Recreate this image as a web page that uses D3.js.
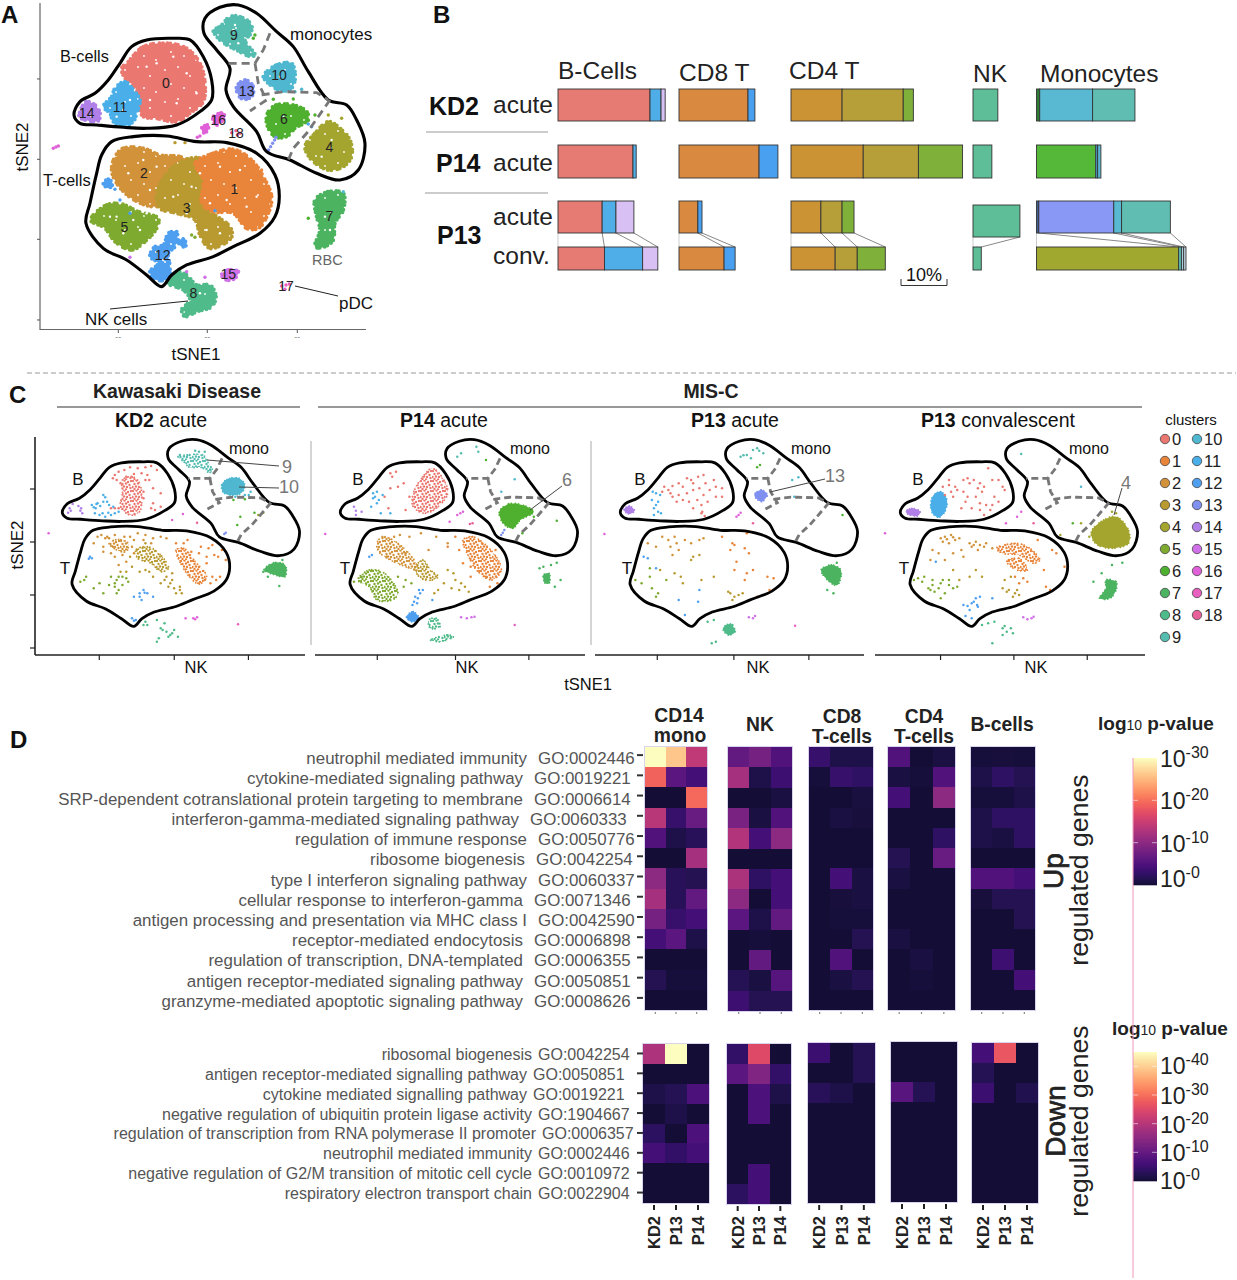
<!DOCTYPE html>
<html><head><meta charset="utf-8">
<script src="https://cdn.jsdelivr.net/npm/d3@7"></script>
<style>body{margin:0;background:#fff}svg{display:block}text{font-family:"Liberation Sans",Arial,sans-serif}</style>
</head><body><svg id="fig" width="1237" height="1280"></svg>
<script>
// ---------- cluster colours
const clusterColors=["#EA7870","#E8853A","#D2923A","#B89A30","#A3A52F","#7FAA30","#4FB030","#4CB460","#4FBB8A","#55BDB0","#4FB8D0","#4AAFE8","#4E9FF0","#7F90F0","#B080E8","#D070E8","#E060D8","#E85FC0","#E8609A"];
const barColors={0:"#E57B72",1:"#D98A40",2:"#CB9333",3:"#B69E38",4:"#A0A830",5:"#7FB03A",6:"#55B838",8:"#5DBE98",9:"#5FBDB2",10:"#59B8D2",11:"#4FAEE8",12:"#4AA0F0",13:"#8A98F5",14:"#D8C0F5",19:"#3E5E90",20:"#2E7D32",21:"#A8D0E0",22:"#C4DAE8"};
// ---------- panel A : cluster footprints in tSNE read units
const outlineB=[[222,345],[240,305],[285,280],[325,240],[360,190],[395,140],[440,120],[520,115],[570,120],[610,170],[635,240],[635,300],[600,335],[530,375],[440,385],[370,382],[290,375],[240,370]];
const outlineT=[[335,425],[400,410],[500,408],[590,425],[680,428],[770,460],[825,525],[838,590],[825,650],[780,700],[700,740],[640,770],[560,795],[515,825],[485,860],[440,825],[380,780],[310,745],[258,670],[270,610],[290,520],[305,465]];
const outlineMono=[[660,22],[715,15],[770,40],[830,95],[880,140],[925,215],[985,300],[1040,315],[1070,360],[1095,430],[1075,510],[1020,540],[950,520],[870,480],[800,455],[770,395],[700,320],[678,270],[690,205],[650,150],[612,100],[615,55]];
const monoDashes=[[[810,100],[790,150],[765,190],[685,190]],[[765,190],[775,250],[800,300],[750,333]],[[785,285],[850,275],[950,278],[985,300]],[[990,300],[920,400],[880,445],[865,480]]];
const atlasBlobs=[
[5,[[272,660],[320,615],[365,612],[415,635],[475,655],[470,685],[435,725],[395,750],[345,725],[315,685]]],
[2,[[345,470],[370,445],[430,445],[480,465],[540,470],[575,490],[560,560],[520,600],[460,620],[395,595],[350,550],[335,510]]],
[3,[[470,580],[520,500],[600,475],[625,540],[610,600],[640,640],[690,680],[695,712],[630,745],[600,705],[585,660],[530,640],[480,625]]],
[1,[[585,490],[640,460],[700,448],[755,480],[790,530],[815,590],[805,640],[775,685],[740,685],[700,640],[640,635],[605,610],[610,540]]],
[12,[[505,700],[530,695],[525,740],[505,760],[510,800],[505,835],[470,840],[450,815],[475,790],[450,770],[465,740],[490,735]]],
[12,[[310,550],[325,538],[338,552],[325,565]]],
[12,[[535,722],[550,718],[560,735],[545,740]]],
[0,[[385,185],[430,140],[500,130],[560,145],[600,190],[615,250],[610,305],[570,340],[530,365],[470,355],[430,350],[410,300],[410,270],[375,235],[365,205]]],
[11,[[345,265],[375,245],[400,270],[420,300],[410,340],[400,365],[370,378],[340,365],[330,340],[310,320],[335,290]]],
[14,[[240,335],[258,305],[285,315],[300,340],[295,362],[255,360],[238,350]]],
[9,[[640,90],[660,80],[690,50],[720,50],[755,75],[750,105],[735,120],[765,165],[745,168],[710,150],[680,135],[650,110]]],
[10,[[800,215],[830,195],[875,190],[885,240],[870,270],[835,270],[800,245],[790,230]]],
[13,[[710,260],[735,240],[760,260],[755,290],[730,298],[715,285]]],
[6,[[805,335],[830,315],[880,315],[920,335],[925,360],[885,385],[860,410],[825,410],[800,370]]],
[4,[[915,440],[945,400],[985,365],[1020,385],[1050,420],[1055,470],[1030,500],[985,510],[935,480]]],
[7,[[945,600],[985,575],[1030,580],[1030,630],[1005,670],[1000,720],[975,740],[945,740],[960,690],[950,650]]],
[8,[[505,850],[530,815],[560,825],[590,855],[630,855],[648,890],[635,920],[590,935],[555,950],[545,930],[570,900],[550,870]]],
[15,[[665,825],[685,810],[715,815],[705,835],[680,840]]],
[16,[[640,350],[665,340],[675,350],[650,375],[640,365]]],
[16,[[605,385],[622,375],[625,390],[610,398]]]
];
const atlasDots=[[16,[[160,445],[168,441],[175,438],[600,408],[592,412]]],[18,[[695,398],[708,392],[720,400],[712,405]]],[17,[[845,858],[858,855],[868,852],[855,868]]],[13,[[806,450],[812,440],[818,430],[824,420],[828,412]]],[6,[[925,655],[945,345],[880,297],[820,298],[760,115],[765,105]]],[4,[[1025,355],[985,345]]],[10,[[905,268],[885,275],[1030,575]]],[12,[[390,640],[645,632],[345,568],[360,600],[935,380],[925,372]]],[5,[[575,705],[585,712]]],[15,[[390,772],[615,832],[560,815]]],[1,[[785,510]]],[3,[[525,428],[555,428]]]];
const whiteSpecks=[[440,200],[470,190],[520,170],[560,220],[450,300],[530,310],[590,280],[370,330],[390,300],[350,350],[430,480],[470,500],[385,520],[450,570],[520,590],[575,560],[600,520],[660,500],[720,510],[680,600],[740,620],[770,590],[630,610],[560,640],[620,690],[660,700],[350,650],[400,660],[420,690],[370,700],[330,650],[700,90],[705,75],[715,130],[840,230],[850,350],[990,690],[975,650],[995,420],[965,470],[600,880],[490,780],[440,640],[480,640],[510,650],[530,660],[500,670],[545,680],[415,625],[360,610]];
const clusterLabelPos=[[498,250],[703,568],[432,520],[560,623],[988,440],[373,680],[852,358],[988,648],[580,878],[702,105],[837,225],[360,320],[488,765],[740,272],[260,340],[685,822],[655,360],[858,858],[708,398]];
// ---------- panel B
const barRows=["KD2 acute","P14 acute","P13 acute","P13 conv."];
const barGroupNames=["B-Cells","CD8 T","CD4 T","NK","Monocytes"];
const bCellBars=[[[0,20],[11,2.4],[14,.9]],[[0,16.3],[11,.7]],[[0,9.6],[11,3],[14,3.9]],[[0,10.1],[11,8.3],[14,3.3]]];
const cd8Bars=[[[1,15],[12,1.5]],[[1,17.4],[12,4.1]],[[1,4.1],[12,.9]],[[1,9.8],[12,2.4]]];
const cd4Bars=[[[2,11.1],[3,13.3],[5,2.2]],[[2,15.7],[3,12],[5,9.6]],[[2,6.5],[3,4.6],[5,2.6]],[[2,9.6],[3,4.8],[5,6.1]]];
const nkBars=[[[8,5.4]],[[8,4.1]],[[8,10.2]],[[8,1.8]]];
const monoBars=[[[20,.7],[10,11.5],[9,9.2]],[[6,12.9],[11,.4],[10,.7]],[[19,.5],[13,16.3],[10,1.7],[9,10.6]],[[4,30.9],[9,.6],[21,.5],[22,.5]]];
// ---------- panel C : cells per sample
const kd2Blobs=[
[0,[[320,300],[345,290],[365,310],[365,395],[340,405],[315,380],[320,340]]],
[9,[[465,230],[490,225],[530,225],[545,250],[555,270],[548,278],[525,262],[495,262],[480,245]]],
[10,[[580,312],[600,295],[625,295],[640,315],[630,340],[600,345],[582,335]]],
[2,[[285,490],[310,478],[335,490],[330,515],[305,510]]],
[3,[[355,510],[385,500],[420,525],[440,565],[420,575],[395,550],[360,535]]],
[1,[[460,510],[480,505],[510,545],[540,590],[520,612],[495,590],[470,545]]],
[7,[[690,570],[715,548],[745,555],[745,590],[720,585]]]];
const kd2Solid=[10,7];
const kd2Dots=[
[0,[[300,285],[310,275],[325,270],[340,262],[360,265],[380,262],[395,258],[410,270],[385,285],[370,280],[350,282],[330,290],[305,300],[295,295],[390,300],[420,340],[400,370],[395,385],[405,390],[420,380],[315,310],[375,335],[375,355],[310,385],[300,385],[380,300],[400,325],[290,385]]],
[11,[[240,375],[255,370],[270,365],[280,365],[285,375],[270,345],[275,352],[250,385],[262,378],[248,400],[260,405],[275,410],[290,405],[300,400],[310,395],[268,400],[252,372],[245,382],[283,398],[296,380]]],
[14,[[178,398],[185,392],[205,378],[212,385],[215,400],[190,372],[182,385],[210,392]]],
[9,[[510,212],[535,215],[550,270],[520,215],[470,225]]],
[10,[[640,345],[650,345],[600,350],[655,335],[615,350],[635,350]]],
[6,[[610,360],[640,358],[628,410],[620,435],[665,398]]],[4,[[675,405],[688,398]]],[13,[[590,458],[586,462]]],
[2,[[265,465],[275,475],[255,470],[280,470],[300,465],[325,470],[350,480],[345,500],[360,460],[380,465],[420,470],[435,475],[400,475],[290,520],[270,500],[285,475],[295,500],[320,525],[340,470],[375,480],[395,490],[270,515],[245,490],[310,555],[330,545],[350,520],[300,530]]],
[3,[[435,590],[450,600],[470,630],[460,640],[445,610],[470,620],[475,640],[430,600],[380,490],[340,530],[380,570],[400,590],[420,610],[365,575],[345,560],[315,575],[330,575],[450,580],[455,625],[440,620],[390,575]]],
[1,[[500,515],[525,500],[555,495],[580,510],[590,540],[560,525],[540,550],[565,600],[550,610],[575,590],[490,480],[460,490],[520,520],[545,505],[570,530],[555,590],[535,600],[540,530],[480,490]]],
[5,[[300,610],[310,590],[320,590],[335,605],[300,620],[285,615],[310,630],[225,590],[220,600],[210,605],[245,625],[270,640],[290,590],[305,600],[320,615],[330,595],[260,610],[305,640]]],
[8,[[380,725],[385,735],[410,720],[420,745],[435,755],[450,760],[465,770],[440,770],[410,785],[415,775],[430,730],[445,765],[455,750],[425,750],[375,735]]],
[12,[[235,530],[240,535],[232,536],[375,630],[385,640],[365,640],[350,650],[370,660],[345,715],[355,720],[378,638],[365,650],[400,650],[350,722]]],
[16,[[127,460],[450,420],[478,402],[485,715],[505,715],[515,712],[510,718]]],[18,[[515,428]]],[17,[[622,733]]],
[7,[[730,618],[688,575],[700,590],[738,540]]]];
const p14Blobs=[
[0,[[1080,340],[1105,290],[1130,265],[1160,300],[1170,340],[1140,385],[1110,400],[1080,380]]],
[6,[[1305,395],[1330,372],[1365,375],[1395,395],[1360,420],[1340,445],[1315,430]]],
[7,[[1420,585],[1435,580],[1435,610],[1425,610]]],
[2,[[985,490],[1000,470],[1040,490],[1085,545],[1090,570],[1060,560],[1020,540],[990,515]]],
[3,[[1085,565],[1105,540],[1125,570],[1145,590],[1130,600],[1100,595]]],
[1,[[1210,480],[1235,470],[1290,520],[1310,570],[1285,600],[1245,570],[1225,530]]],
[5,[[935,600],[965,570],[1005,580],[1040,640],[1025,660],[985,660],[965,620]]],
[12,[[1062,710],[1080,695],[1095,715],[1075,725]]],
[8,[[1120,720],[1140,715],[1150,740],[1125,745]]],
[8,[[1125,780],[1170,765],[1185,770],[1150,785]]]];
const p14Solid=[6,7,12];
const p14Dots=[
[0,[[1020,280],[1035,275],[1025,290],[1040,320],[1020,325],[1005,350],[1015,385],[1055,310],[1070,350],[1060,390]]],
[11,[[975,340],[985,335],[975,355],[985,370],[970,380],[995,400],[1000,345],[1020,400],[980,350],[990,360]]],
[14,[[925,380],[930,392],[945,395],[930,405]]],
[9,[[1195,230],[1205,220],[1245,200],[1250,215]]],[6,[[1270,240],[1395,410],[1455,422],[1365,460]]],[10,[[1345,298],[1310,335]]],
[13,[[1310,465],[1314,458],[1318,450]]],
[7,[[1410,565],[1440,555],[1455,548],[1465,600],[1450,620],[1420,560]]],
[2,[[1030,470],[1045,465],[1070,470],[1100,460],[1140,470],[1170,490],[1010,530],[1120,510],[1060,520]]],
[3,[[1160,610],[1180,625],[1200,630],[1215,620],[1225,635],[1170,570],[1190,600],[1145,630],[1135,640],[1205,610],[1185,580]]],
[1,[[1190,470],[1170,500],[1210,550],[1230,560],[1270,590],[1300,610],[1280,620],[1295,510],[1260,490],[1230,590],[1200,510]]],
[5,[[1060,600],[1040,590],[1075,610],[1055,620],[925,605],[945,590]]],
[12,[[1095,630],[1105,630],[1090,670],[1078,675],[1085,650],[1098,640],[1092,655],[1082,665],[965,530],[972,525],[1130,660]]],
[16,[[850,462],[1175,425],[1195,405],[1210,395],[1203,400]]],[18,[[1235,430],[1228,432]]],[15,[[1220,715],[1240,710],[1205,712],[1232,712]]],[17,[[1345,735]]]];
const p13aBlobs=[
[14,[[82,390],[95,378],[108,392],[95,402]]],
[13,[[398,345],[415,330],[430,345],[415,365]]],
[7,[[560,570],[585,555],[608,570],[600,615],[585,610]]],
[8,[[322,745],[340,732],[352,755],[335,765]]]];
const p13aSolid=[14,13,7,8];
const p13aDots=[
[0,[[175,335],[190,330],[200,318],[215,310],[225,320],[235,295],[250,310],[262,290],[275,285],[280,310],[265,325],[250,330],[235,340],[215,345],[200,350],[210,365],[225,360],[240,365],[260,360],[275,345],[290,330],[305,320],[320,325],[305,350],[285,365],[270,375],[250,385],[270,400],[278,408],[272,395],[180,320],[195,340],[245,300],[300,300],[320,350]]],
[11,[[152,335],[160,340],[170,345],[150,360],[165,365],[155,385],[165,395],[155,405],[172,400],[160,375]]],
[2,[[175,470],[190,480],[205,470],[210,490],[195,500],[215,510],[230,480],[245,490],[265,480],[275,475],[200,525],[160,500],[140,490]]],
[1,[[345,490],[340,510],[375,505],[350,495],[385,520],[355,545],[350,570],[395,570],[380,580],[375,600],[430,590],[445,595],[435,630],[405,650],[320,470],[380,460]]],
[3,[[250,530],[265,525],[245,540],[205,580],[220,590],[225,610],[170,570],[270,600],[300,590],[340,640],[350,650],[360,645],[345,660],[370,640],[335,635]]],
[5,[[110,600],[125,610],[145,590],[150,625],[165,640],[160,650],[185,600],[145,565]]],
[12,[[130,530],[140,535],[160,565],[265,630],[262,665],[215,660],[230,705]]],
[9,[[365,230],[380,225],[395,210],[405,205],[420,220],[390,235],[372,226],[410,212]]],[6,[[405,262],[412,255],[612,405]]],[10,[[505,292],[490,300],[495,350]]],
[8,[[285,725],[300,720],[295,790],[305,785],[345,735]]],[7,[[598,548],[575,630],[590,640]]],
[16,[[35,462],[360,405],[355,410],[365,398]]],[18,[[395,430]]],[15,[[385,712],[395,715],[400,708]]],[17,[[497,737]]]];
const p13cBlobs=[
[11,[[830,350],[850,335],[865,360],[860,395],[845,412],[828,395]]],
[14,[[765,395],[780,385],[800,395],[795,407],[775,405]]],
[4,[[1215,455],[1245,420],[1275,410],[1305,450],[1305,490],[1260,505],[1225,490]]],
[1,[[985,505],[1030,490],[1060,500],[1090,540],[1075,550],[1040,525],[1000,520]]],
[1,[[1010,545],[1040,535],[1060,570],[1035,570]]],
[7,[[1250,600],[1275,605],[1275,630],[1260,655],[1235,655],[1250,625]]]];
const p13cSolid=[11,14,4,7];
const p13cDots=[
[0,[[855,320],[870,315],[885,320],[875,335],[860,345],[880,350],[905,300],[915,295],[920,310],[905,335],[915,350],[945,310],[940,325],[950,335],[935,350],[965,265],[975,300],[1000,320],[960,375],[945,370],[975,375],[990,365],[970,390],[945,390],[955,405],[925,385],[900,385],[990,300],[1005,330],[870,300],[890,330],[930,300],[955,320],[910,365],[980,350]]],
[4,[[1275,400],[1190,430],[1140,465],[1210,470],[1265,395]]],
[2,[[850,475],[860,470],[875,465],[885,480],[870,490],[895,475],[920,490],[935,485],[945,495],[925,500],[960,490],[975,505],[830,510],[845,520],[825,540],[900,510],[880,520],[860,540],[905,530],[865,478],[880,472],[855,485],[930,495],[940,510],[955,500]]],
[1,[[1050,595],[1040,610],[1060,605],[1105,620],[1115,630],[1100,570],[1130,520],[1085,480],[1120,510],[1150,560],[1030,590],[1015,540]]],
[3,[[1000,625],[1015,630],[1030,640],[1025,650],[1040,645],[1005,600],[1020,590],[935,570],[920,590],[895,600],[880,570],[1010,635],[1035,630],[950,590]]],
[5,[[785,600],[795,595],[810,590],[830,600],[805,605],[820,625],[830,615],[850,610],[870,600],[890,620],[860,640],[845,625],[835,635],[870,615],[855,600],[880,625],[850,655],[825,630]]],
[12,[[905,675],[925,670],[935,655],[945,650],[940,680],[920,690],[910,708],[925,715],[975,655],[930,665],[938,675],[915,678],[838,545]]],
[8,[[965,730],[980,725],[1000,745],[1010,755],[1025,760],[1000,765],[975,790],[950,735],[1020,745],[1005,738]]],
[7,[[1240,580],[1220,605],[1290,548],[1265,555]]],
[9,[[1045,222]]],[10,[[1190,320]]],[6,[[1170,430]]],
[16,[[715,460],[1035,410],[1045,395],[1008,430]]],[18,[[1075,430]]],[15,[[1050,712],[1070,715],[1060,718],[1075,710]]]];
const sampleTicks=[[-88,4,95],[-88,8,98],[-88,6,98],[-84,6,96]];
// ---------- panel D
const upTerms=[["neutrophil mediated immunity","GO:0002446"],["cytokine-mediated signaling pathway","GO:0019221"],["SRP-dependent cotranslational protein targeting to membrane","GO:0006614"],["interferon-gamma-mediated signaling pathway","GO:0060333"],["regulation of immune response","GO:0050776"],["ribosome biogenesis","GO:0042254"],["type I interferon signaling pathway","GO:0060337"],["cellular response to interferon-gamma","GO:0071346"],["antigen processing and presentation via MHC class I","GO:0042590"],["receptor-mediated endocytosis","GO:0006898"],["regulation of transcription, DNA-templated","GO:0006355"],["antigen receptor-mediated signaling pathway","GO:0050851"],["granzyme-mediated apoptotic signaling pathway","GO:0008626"]];
const downTerms=[["ribosomal biogenesis","GO:0042254"],["antigen receptor-mediated signalling pathway","GO:0050851"],["cytokine mediated signalling pathway","GO:0019221"],["negative regulation of ubiquitin protein ligase activity","GO:1904667"],["regulation of transcription from RNA polymerase II promoter","GO:0006357"],["neutrophil mediated immunity","GO:0002446"],["negative regulation of G2/M transition of mitotic cell cycle","GO:0010972"],["respiratory electron transport chain","GO:0022904"]];
const samples=["KD2","P13","P14"];
const upCD14=[[30,26,14],[19,6,4],[0,0,19.5],[13.5,3,7],[5,1,2],[0,0,12],[10,2,1.5],[12,2,6.5],[8,3,4],[4,6,1],[0,0,0],[1.5,.3,.3],[0,0,0]];
const upNK=[[6.5,8,5],[12,1,3.5],[0,0,.7],[8.5,.7,5],[13,4,10],[0,0,0],[12.5,2.5,4],[10,0,4],[6,1,6.5],[0,.3,0],[0,6.5,0],[1.7,.7,5.5],[3.5,1.5,1.5]];
const upCD8=[[3,1,1],[.3,3,2.5],[0,0,.5],[0,.7,.4],[0,0,0],[0,0,0],[0,4,.7],[0,.4,.7],[0,.3,.3],[0,0,1.5],[0,5,0],[0,.7,1.5],[0,0,0]];
const upCD4=[[5,0,.7],[.7,.3,5],[4,0,10],[0,0,0],[0,0,2.5],[1.5,0,7],[.7,0,0],[0,0,0],[0,0,0],[.7,0,0],[0,.7,0],[0,.3,0],[0,0,0]];
const upB=[[.2,.4,.2],[1,2.5,1.5],[.2,.2,1],[1,2.5,2.5],[1,.7,2.5],[0,0,0],[5,5,4],[.4,1.5,1.5],[0,0,1.5],[0,0,0],[0,3.5,0],[0,0,4],[0,0,0]];
const downCD14=[[19,45,0],[0,0,0],[1.5,2.5,7],[0,1.5,0],[3.5,0,7],[6,4,6],[0,0,0],[0,0,0]];
const downNK=[[4,25,0],[9,13.5,4],[0,7,1.5],[0,7,0],[0,0,0],[0,0,0],[0,6,0],[3.5,6,0]];
const downCD8=[[5,0,2.5],[0,0,2.5],[3,1.5,0],[0,0,0],[0,0,0],[0,0,0],[0,0,0],[0,0,0]];
const downCD4=[[0,0,0],[0,0,0],[8.5,2.5,0],[0,0,0],[0,0,0],[0,0,0],[0,0,0],[0,0,0]];
const downB=[[6,27,0],[2.5,0,0],[5,0,2],[0,0,0],[0,0,0],[0,0,0],[0,0,0],[0,0,0]];
const upLegendTicks=[0,10,20,30];
const downLegendTicks=[0,10,20,30,40];
// texture tiles
const speckTile=[[1,1],[4.5,.5],[8,2],[11,1],[2.5,4],[6,3.5],[9.5,5],[.5,7],[4,6.5],[7,7],[10.5,8],[2.5,9],[6,9.5]];
const fleckTile=[[5,6],[18,3],[30,12],[11,20],[24,24],[36,28]];

// ========== drawing
const svg=d3.select("#fig");
const defs=svg.append("defs");
clusterColors.forEach((c,i)=>{
 const a=defs.append("pattern").attr("id","sp"+i).attr("patternUnits","userSpaceOnUse").attr("width",12).attr("height",10);
 speckTile.forEach(p=>a.append("circle").attr("cx",p[0]).attr("cy",p[1]).attr("r",1.2).attr("fill",c));
 const b=defs.append("pattern").attr("id","fl"+i).attr("patternUnits","userSpaceOnUse").attr("width",40).attr("height",32);
 b.append("rect").attr("width",40).attr("height",32).attr("fill",c);
 fleckTile.forEach(p=>b.append("circle").attr("cx",p[0]).attr("cy",p[1]).attr("r",.9).attr("fill","#fff"));
});
function txt(g,x,y,s,o={}){const t=g.append("text").attr("x",x).attr("y",y).text(s).attr("font-size",o.size||16).attr("fill",o.fill||"#111").attr("text-anchor",o.anchor||"start");if(o.bold)t.attr("font-weight","bold");if(o.heavy)t.attr("stroke",o.fill||"#111").attr("stroke-width",o.heavy);if(o.rotate)t.attr("transform",`rotate(${o.rotate} ${x} ${y})`);return t;}
function seg(g,x1,y1,x2,y2,c="#333",w=1,dash){const l=g.append("line").attr("x1",x1).attr("y1",y1).attr("x2",x2).attr("y2",y2).attr("stroke",c).attr("stroke-width",w);if(dash)l.attr("stroke-dasharray",dash);return l;}
const closed=d3.line().curve(d3.curveCatmullRomClosed.alpha(.5));
const open=d3.line().curve(d3.curveLinear);
function blob(g,pts,fill,c,sx,sy,sw,dash){g.append("path").attr("d",closed(pts.map(p=>[sx(p[0]),sy(p[1])]))).attr("fill",fill).attr("stroke",c).attr("stroke-width",sw).attr("stroke-linecap","round").attr("stroke-dasharray",dash);}
function outlines(g,sx,sy,w,dw,dd){
 [outlineB,outlineT,outlineMono].forEach(o=>g.append("path").attr("d",closed(o.map(p=>[sx(p[0]),sy(p[1])]))).attr("fill","none").attr("stroke","#000").attr("stroke-width",w));
 monoDashes.forEach(o=>g.append("path").attr("d",open(o.map(p=>[sx(p[0]),sy(p[1])]))).attr("fill","none").attr("stroke","#777").attr("stroke-width",dw).attr("stroke-dasharray",dd));
}
[["A",1,23],["B",433,23],["C",9,403],["D",10,748]].forEach(d=>txt(svg,d[1],d[2],d[0],{size:24,bold:true}));
// ---- Panel A
const gA=svg.append("g");
const xA=d3.scaleLinear().domain([622,892]).range([207.3,297.3]);
const yA=d3.scaleLinear().domain([478,718]).range([159.3,239.3]);
atlasBlobs.forEach(b=>blob(gA,b[1],`url(#fl${b[0]})`,clusterColors[b[0]],xA,yA,4,"0 3 0 5 0 2.5 0 6 0 3.5 0 4.5"));
atlasDots.forEach(d=>gA.selectAll(null).data(d[1]).join("circle").attr("cx",p=>xA(p[0])).attr("cy",p=>yA(p[1])).attr("r",1.7).attr("fill",clusterColors[d[0]]));
gA.selectAll(null).data(whiteSpecks).join("circle").attr("cx",p=>xA(p[0])).attr("cy",p=>yA(p[1])).attr("r",1.2).attr("fill","#fff");
outlines(gA,xA,yA,3.1,2.8,"8 5");
clusterLabelPos.forEach((p,i)=>txt(gA,xA(p[0]),yA(p[1])+5,i,{size:14,anchor:"middle",fill:"#222"}));
seg(gA,40,3,40,330,"#666",1.2);seg(gA,40,329.5,366,329.5,"#666",1.2);
[237,478,718,960].forEach(v=>seg(gA,37,yA(v),40,yA(v),"#555"));
[355,622,892].forEach(v=>{seg(gA,xA(v),330,xA(v),333,"#555");txt(gA,xA(v),340,"--",{size:9,anchor:"middle",fill:"#888"});});
txt(gA,60,62,"B-cells",{size:16.3});txt(gA,290,40,"monocytes",{size:17});txt(gA,43,186,"T-cells",{size:16.5});txt(gA,85,325,"NK cells",{size:17});
txt(gA,312,265,"RBC",{size:14.5,fill:"#666"});txt(gA,339,309,"pDC",{size:17});
txt(gA,196,360,"tSNE1",{size:17,anchor:"middle"});txt(gA,28,147,"tSNE2",{size:17,anchor:"middle",rotate:-90});
seg(gA,110,309,188,301,"#222");seg(gA,295,286,338,296,"#222");
// ---- Panel B
const gB=svg.append("g");
const pct=d3.scaleLinear().domain([0,10]).range([0,46]);
const rowBand=[[89,121],[145,178],[201,233],[247,270]];
const groupX=[558,679,791,973,1036.5];
const groupBars=[bCellBars,cd8Bars,cd4Bars,nkBars,monoBars];
groupBars.forEach((bars,gi)=>{
 const dy=r=>(gi===3&&r===2)?4:0;
 const ends=bars.map(row=>{let c=0;return [0].concat(row.map(s=>c+=s[1]));});
 ends[2].forEach((e,i)=>{const e2=ends[3][Math.min(i,ends[3].length-1)];seg(gB,groupX[gi]+pct(e),rowBand[2][1]+dy(2),groupX[gi]+pct(e2),rowBand[3][0],i===0?"#ccc":"#888",1);});
 bars.forEach((row,r)=>{
  let c=0;
  row.forEach(s=>{gB.append("rect").attr("x",groupX[gi]+pct(c)).attr("y",rowBand[r][0]+dy(r)).attr("width",pct(s[1])).attr("height",rowBand[r][1]-rowBand[r][0]).attr("fill",barColors[s[0]]).attr("stroke","#333").attr("stroke-width",.9);c+=s[1];});
 });
});
[[558,79,"B-Cells"],[679,81,"CD8 T"],[789,79,"CD4 T"],[973,82,"NK"],[1040,82,"Monocytes"]].forEach((d,i)=>txt(gB,d[0],d[1],barGroupNames[i],{size:24.5,fill:"#222"}));
txt(gB,429,115,"KD2",{size:25,bold:true});txt(gB,436,172,"P14",{size:25,bold:true});txt(gB,437,244,"P13",{size:25,bold:true});
[[113,"acute"],[171,"acute"],[225,"acute"],[264,"conv."]].forEach(d=>txt(gB,493,d[0],d[1],{size:24.5,fill:"#222"}));
seg(gB,426,132,548,132,"#bbb",1.6);seg(gB,425,193,548,193,"#bbb",1.6);
const barL=901,barR=901+pct(10);
gB.append("path").attr("d",`M${barL},279V285.5H${barR}V279`).attr("fill","none").attr("stroke","#333");
txt(gB,(barL+barR)/2,281,"10%",{size:18,anchor:"middle"});
seg(svg,27,373,1236,373,"#999",1,"5 3");
// ---- Panel C
const gC=svg.append("g");
const read4=d3.scaleLinear().domain([0,1568]).range([0,600]);
const read5=d3.scaleLinear().domain([0,1568]).range([590,1237]);
const readY=d3.scaleLinear().domain([0,930]).range([380,690]);
const panels=[
{t:"KD2",s:" acute",cx:161,x0:171,rx:read4,blobs:kd2Blobs,solid:kd2Solid,dots:kd2Dots,ax:[35,305],nk:196,mono:249,B:78,T:65},
{t:"P14",s:" acute",cx:444,x0:449,rx:read4,blobs:p14Blobs,solid:p14Solid,dots:p14Dots,ax:[315,585],nk:467,mono:530,B:358,T:345},
{t:"P13",s:" acute",cx:735,x0:729,rx:read5,blobs:p13aBlobs,solid:p13aSolid,dots:p13aDots,ax:[595,864],nk:758,mono:811,B:640,T:627},
{t:"P13",s:" convalescent",cx:998,x0:1009,rx:read5,blobs:p13cBlobs,solid:p13cSolid,dots:p13cDots,ax:[875,1145],nk:1036,mono:1089,B:918,T:904}];
panels.forEach((p,i)=>{
 const g=gC.append("g");
 const xo=d3.scaleLinear().domain([622,1622]).range([p.x0,p.x0+271.7]);
 const yo=d3.scaleLinear().domain([478,1478]).range([542,763]);
 p.blobs.forEach(b=>blob(g,b[1],p.solid.includes(b[0])?clusterColors[b[0]]:`url(#sp${b[0]})`,clusterColors[b[0]],p.rx,readY,1.9,"0 2.5 0 4 0 3 0 5.5"));
 p.dots.forEach(d=>g.selectAll(null).data(d[1]).join("circle").attr("cx",q=>p.rx(q[0])).attr("cy",q=>readY(q[1])).attr("r",1.25).attr("fill",clusterColors[d[0]]));
 outlines(g,xo,yo,2.8,2.8,"7 4");
 seg(g,p.ax[0],655,p.ax[1],655,"#222",1.6);
 sampleTicks[i].forEach(v=>seg(g,p.x0+v*.815,655,p.x0+v*.815,660,"#222",1.2));
 txt(g,p.nk,673,"NK",{size:16.5,anchor:"middle"});
 txt(g,p.mono,454,"mono",{size:16,anchor:"middle"});
 txt(g,p.B,485,"B",{size:17,anchor:"middle"});txt(g,p.T,574,"T",{size:17,anchor:"middle"});
 const tt=txt(g,p.cx,427,p.t,{size:19.5,anchor:"middle",bold:true});
 tt.append("tspan").attr("font-weight","normal").text(p.s);
});
seg(gC,35,437,35,655,"#222",1.6);
[489,542,595,648].forEach(v=>seg(gC,30,v,35,v,"#222",1.2));
seg(gC,311,441,311,645,"#aaa",1);seg(gC,591,441,591,645,"#aaa",1);
txt(gC,177,398,"Kawasaki Disease",{size:19.5,bold:true,anchor:"middle",fill:"#222"});
txt(gC,711,398,"MIS-C",{size:19.5,bold:true,anchor:"middle",fill:"#222"});
seg(gC,57,407,300,407,"#333");seg(gC,318,407,1142,407,"#333");
txt(gC,588,690,"tSNE1",{size:16.5,anchor:"middle"});txt(gC,23,545,"tSNE2",{size:17,anchor:"middle",rotate:-90});
[[287,473,"9",207,460,279,466],[289,493,"10",239,487,279,488],[567,486,"6",530,510,562,486],[835,482,"13",770,492,825,479],[1126,489,"4",1114,515,1122,488]].forEach(a=>{seg(gC,a[3],a[4],a[5],a[6],"#444");txt(gC,a[0],a[1],a[2],{size:18,anchor:"middle",fill:"#777"});});
// legend
txt(gC,1191,425,"clusters",{size:15,anchor:"middle"});
clusterColors.forEach((c,i)=>{const col=i<10?0:1,row=i<10?i:i-10;const x=col?1197:1165,y=439+row*22;
 gC.append("circle").attr("cx",x).attr("cy",y).attr("r",4.7).attr("fill",c).attr("stroke","#444").attr("stroke-width",.8);
 txt(gC,x+7,y+6,i,{size:16.5,fill:"#222"});});
// ---- Panel D
const gD=svg.append("g");
const colorUp=v=>d3.interpolateMagma(.1+.9*v/30), colorDown=v=>d3.interpolateMagma(.1+.9*v/45);
function heat(box,data,color,rowsN){
 const x=d3.scaleBand().domain(samples).range([box[0],box[1]]);
 const y=d3.scaleBand().domain(d3.range(rowsN)).range([box[2],box[3]]);
 const g=gD.append("g").attr("shape-rendering","crispEdges");
 data.forEach((row,r)=>row.forEach((v,c)=>g.append("rect").attr("x",x(samples[c])).attr("y",y(r)).attr("width",x.bandwidth()+.5).attr("height",y.bandwidth()+.5).attr("fill",color(v))));
 g.append("rect").attr("x",box[0]-.5).attr("y",box[2]-.5).attr("width",box[1]-box[0]+1).attr("height",box[3]-box[2]+1).attr("fill","none").attr("stroke","#d8d4ee");
 return {x,y};
}
const upBoxes=[[645,707,747,1010],[728,792,747,1011],[809,873,747,1010],[888,955,747,1010],[971,1035,747,1010]];
const downBoxes=[[643,709,1044,1203],[727,791,1044,1204],[808,875,1043,1203],[891,957,1042,1202],[972,1038,1043,1203]];
[upCD14,upNK,upCD8,upCD4,upB].forEach((d,i)=>{const s=heat(upBoxes[i],d,colorUp,13);samples.forEach(k=>seg(gD,s.x(k)+s.x.bandwidth()/2,1012,s.x(k)+s.x.bandwidth()/2,1014,"#888",1.2));});
[downCD14,downNK,downCD8,downCD4,downB].forEach((d,i)=>{const s=heat(downBoxes[i],d,colorDown,8);samples.forEach(k=>{const c=s.x(k)+s.x.bandwidth()/2;seg(gD,c,downBoxes[i][3]+2,c,downBoxes[i][3]+7,"#222",2);txt(gD,c+6,1216,k,{size:16.5,bold:true,anchor:"end",rotate:-90,fill:"#222"});});});
const yUp=d3.scaleBand().domain(d3.range(13)).range([747,1010]);
upTerms.forEach((t,i)=>{const c=yUp(i)+yUp.bandwidth()/2;const e=[527,523,523,519,527,525,527,523,527,523,523,523,523][i];
 seg(gD,637,c-2,643,c-2,"#333",2);
 txt(gD,e,c+7,t[0],{size:16.9,anchor:"end",fill:"#555"});txt(gD,e+11,c+7,t[1],{size:16.9,fill:"#555"});});
const yDn=d3.scaleBand().domain(d3.range(8)).range([1044,1203]);
downTerms.forEach((t,i)=>{const c=yDn(i)+yDn.bandwidth()/2;const e=[532,527,527,532,536,532,532,532][i];
 seg(gD,637,c-.5,643,c-.5,"#333",2);
 txt(gD,e,c+6,t[0],{size:16,anchor:"end",fill:"#555"});txt(gD,e+6,c+6,t[1],{size:16,fill:"#555"});});
[[679,722,"CD14"],[680,742,"mono"],[760,731,"NK"],[842,723,"CD8"],[842,743,"T-cells"],[924,723,"CD4"],[924,743,"T-cells"],[1002,731,"B-cells"]].forEach(d=>txt(gD,d[0],d[1],d[2],{size:19.3,bold:true,anchor:"middle",fill:"#222"}));
function colorbar(top,bottom,max,ticks,color,labelY){
 const y=d3.scaleLinear().domain([0,max]).range([bottom,top]);
 d3.range(0,bottom-top).forEach(i=>gD.append("rect").attr("x",1133).attr("y",top+i).attr("width",24).attr("height",1.3).attr("fill",color(y.invert(top+i+.5))));
 ticks.forEach((t,i)=>{
  if(t>0&&t<max){seg(gD,1133,y(t),1138,y(t),"#fff",.8,null).attr("opacity",.7);seg(gD,1152,y(t),1157,y(t),"#fff",.8).attr("opacity",.7);}
  const l=txt(gD,1160,labelY[i],"10",{size:23,fill:"#222"});
  l.append("tspan").attr("font-size",16).attr("dy",-9).text("-"+t);
 });
}
function legendTitle(x,y){const t=txt(gD,x,y,"log",{size:19,bold:true,fill:"#222"});t.append("tspan").attr("font-size",14).attr("font-weight","normal").text("10");t.append("tspan").text(" p-value");}
legendTitle(1098,730);legendTitle(1112,1035);
colorbar(758,885,30,upLegendTicks,colorUp,[887,852,809,767]);
colorbar(1052,1181,45,downLegendTicks,colorDown,[1189,1161,1133,1104,1074]);
seg(gD,1133,758,1133,1278,"#F0A0C0",1.1);
txt(gD,1063,871,"Up",{size:28,anchor:"middle",rotate:-90,fill:"#222",heavy:.7});
txt(gD,1088,870,"regulated genes",{size:26.7,anchor:"middle",rotate:-90,fill:"#222"});
txt(gD,1065,1121,"Down",{size:28,anchor:"middle",rotate:-90,fill:"#222",heavy:.7});
txt(gD,1088,1121,"regulated genes",{size:26.7,anchor:"middle",rotate:-90,fill:"#222"});
</script></body></html>
